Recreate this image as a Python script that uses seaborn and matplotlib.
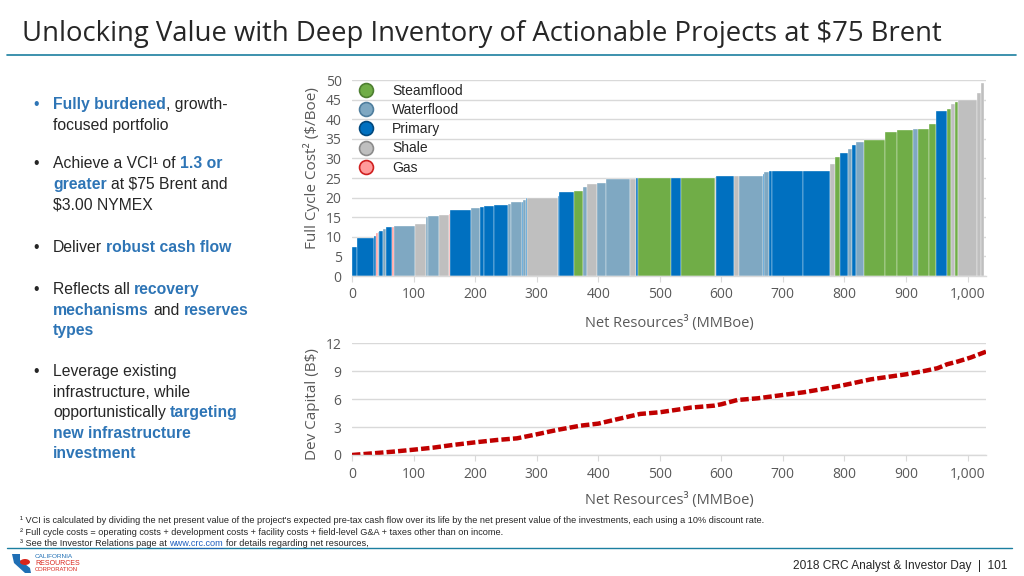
import numpy as np
import pandas as pd
import matplotlib
matplotlib.use("Agg")
import matplotlib.pyplot as plt
from matplotlib.lines import Line2D
from matplotlib.patches import Polygon, Ellipse
import seaborn as sns

# ---------------- data ----------------
# project segments on the cost curve (net resources width in MMBoe, cost $/Boe, type)
seg_width = [8, 28, 3, 3, 2, 7, 5, 9, 3, 34, 19, 2, 19, 15, 2, 34, 15, 6, 16, 24,
             5, 17, 2, 5, 2, 50, 2, 24, 15, 6, 16, 14, 39, 10, 3, 54, 17, 54, 3, 28,
             9, 39, 2, 7, 6, 49, 45, 8, 8, 13, 6, 7, 12, 35, 20, 25, 9, 18, 11, 17,
             7, 7, 5, 31, 6, 5]
seg_cost = [7.3, 9.8, 10.3, 10.9, 11.2, 11.6, 12.0, 12.4, 12.6, 12.7, 13.3, 15.0, 15.4, 15.6, 15.8,
            16.9, 17.4, 17.6, 17.8, 18.0, 18.3, 18.8, 19.0, 19.5, 19.8, 20.0, 20.5, 21.5, 21.7,
            22.8, 23.5, 23.8, 24.7, 24.8, 25.0, 25.0, 25.0, 25.0, 25.2, 25.4, 25.5, 25.6, 26.0,
            26.5, 26.8, 26.9, 26.9, 28.5, 30.3, 31.3, 32.5, 33.4, 34.1, 34.8, 36.7, 37.2, 37.6,
            37.6, 38.9, 42.1, 42.5, 43.8, 44.3, 44.9, 46.8, 49.2]
seg_type = ["Primary", "Primary", "Primary", "Gas", "Waterflood", "Primary", "Waterflood", "Primary",
            "Gas", "Waterflood", "Shale", "Waterflood", "Waterflood", "Shale", "Gas", "Primary",
            "Waterflood", "Primary", "Primary", "Primary", "Waterflood", "Waterflood", "Primary",
            "Waterflood", "Primary", "Shale", "Primary", "Primary", "Steamflood", "Waterflood",
            "Shale", "Waterflood", "Waterflood", "Shale", "Primary", "Steamflood", "Primary",
            "Steamflood", "Shale", "Primary", "Shale", "Waterflood", "Primary", "Waterflood",
            "Primary", "Primary", "Primary", "Shale", "Steamflood", "Primary", "Waterflood",
            "Primary", "Waterflood", "Steamflood", "Steamflood", "Steamflood", "Waterflood",
            "Steamflood", "Steamflood", "Primary", "Steamflood", "Shale", "Steamflood", "Shale",
            "Shale", "Shale"]

# cumulative development capital curve
cap_res = [0, 34, 67, 100, 132, 164, 200, 235, 268, 300, 333, 371, 400, 441, 468, 500, 533,
           550, 588, 600, 626, 659, 700, 734, 772, 800, 843, 900, 930, 951, 967, 984, 1005, 1030]
cap_bn = [0, 0.18, 0.36, 0.57, 0.79, 1.08, 1.36, 1.61, 1.79, 2.22, 2.69, 3.15, 3.37, 4.0, 4.41,
          4.59, 4.91, 5.09, 5.3, 5.45, 5.91, 6.09, 6.45, 6.74, 7.17, 7.52, 8.13, 8.67, 9.03, 9.32,
          9.75, 10.04, 10.47, 11.1]

legend_types = ["Steamflood", "Waterflood", "Primary", "Shale", "Gas"]
x_ticks = [0, 100, 200, 300, 400, 500, 600, 700, 800, 900, 1000]
top_yticks = [0, 5, 10, 15, 20, 25, 30, 35, 40, 45, 50]
bot_yticks = [0, 3, 6, 9, 12]

fill = {"Steamflood": "#70AD47", "Waterflood": "#7FA8C2", "Primary": "#0070C0",
        "Shale": "#BFBFBF", "Gas": "#FF9B9B"}
edge = {"Steamflood": "#4E7F31", "Waterflood": "#4F7E9E", "Primary": "#00487E",
        "Shale": "#8C8C8C", "Gas": "#D02020"}

# ---------------- style ----------------
sns.set_style("white")
plt.rcParams["font.family"] = ["Open Sans", "DejaVu Sans"]

W, H = 1024, 576
fig = plt.figure(figsize=(W / 100, H / 100), dpi=100)
fig.patch.set_facecolor("white")

TICKC = "#595959"
GRIDC = "#D9D9D9"


def fx(px):
    return px / W


def fy(py):
    return 1 - py / H


def style_axis(ax, xpad):
    ax.set_xlim(0, 1030)
    ax.set_xticks(x_ticks)
    ax.set_xticklabels([f"{v:,}" for v in x_ticks])
    ax.yaxis.grid(True, color=GRIDC, lw=1.0)
    ax.xaxis.grid(False)
    ax.set_axisbelow(True)
    for s in ["top", "right", "left"]:
        ax.spines[s].set_visible(False)
    ax.spines["bottom"].set_color(GRIDC)
    ax.spines["bottom"].set_linewidth(1.0)
    ax.tick_params(axis="x", which="both", bottom=True, length=4, color=GRIDC,
                   labelsize=10, labelcolor=TICKC, pad=xpad)
    ax.tick_params(axis="y", left=False, labelsize=10, labelcolor=TICKC, pad=4)


# ---------------- top chart ----------------
ax1 = fig.add_axes([fx(352), fy(276), fx(634), 196 / H])
starts = np.concatenate([[0], np.cumsum(seg_width)[:-1]])
df = pd.DataFrame({"start": starts, "width": seg_width, "cost": seg_cost, "type": seg_type})
ax1.bar(df["start"], df["cost"], width=df["width"], align="edge",
        color=[fill[t] for t in df["type"]], edgecolor="white", linewidth=0.25)
style_axis(ax1, 4)
ax1.set_ylim(0, 50)
ax1.set_yticks(top_yticks)
ax1.set_xlabel("Net Resources³ (MMBoe)", fontsize=10.5, color=TICKC, labelpad=9)
ax1.set_ylabel("Full Cycle Cost² ($/Boe)", fontsize=11, color=TICKC)
ax1.yaxis.set_label_coords(-0.051, 0.55)

handles = [Line2D([0], [0], marker="o", linestyle="none", markersize=10,
                  markerfacecolor=fill[t], markeredgecolor=edge[t], markeredgewidth=1.2)
           for t in legend_types]
leg = ax1.legend(handles, legend_types, loc="upper left", bbox_to_anchor=(0.0, 1.01),
                 frameon=False, handletextpad=1.3, labelspacing=0.38, borderaxespad=0,
                 handlelength=1.2, prop={"family": "Liberation Sans", "size": 10})
for t in leg.get_texts():
    t.set_color("#262626")

# ---------------- bottom chart ----------------
ax2 = fig.add_axes([fx(352), fy(455), fx(634), 111.7 / H])
cap_df = pd.DataFrame({"res": cap_res, "cap": cap_bn})
sns.lineplot(data=cap_df, x="res", y="cap", ax=ax2, color="#C00000", lw=3.2)
ax2.lines[0].set_dashes([1.9, 0.7])
style_axis(ax2, 5)
ax2.set_ylim(0, 12)
ax2.set_yticks(bot_yticks)
ax2.set_xlabel("Net Resources³ (MMBoe)", fontsize=10.5, color=TICKC, labelpad=7)
ax2.set_ylabel("Dev Capital (B$)", fontsize=11, color=TICKC)
ax2.yaxis.set_label_coords(-0.051, 0.46)

# ---------------- title & rules ----------------
fig.text(fx(22), fy(41), "Unlocking Value with Deep Inventory of Actionable Projects at $75 Brent",
         fontsize=19.8, color="#262626", va="baseline", ha="left")
fig.add_artist(Line2D([fx(7), fx(1016)], [fy(55), fy(55)], color="#1B7FA0", lw=1.2))
fig.add_artist(Line2D([fx(7), fx(1012)], [fy(548), fy(548)], color="#1B7FA0", lw=1.0))

# ---------------- bullets ----------------
renderer = fig.canvas.get_renderer()
BFONT = ["Liberation Sans", "DejaVu Sans"]
BSIZE = 11.3
DARK = "#262626"
BLUE = "#2E75B6"


def text_w(s, size, weight):
    t = fig.text(0, 0, s, fontsize=size, family=BFONT, fontweight=weight)
    w = t.get_window_extent(renderer).width
    t.remove()
    return w


def advance(s, size, weight):
    # width of s including trailing spaces, bracketed by a glyph
    return text_w(s + "x", size, weight) - text_w("x", size, weight)


def rich(x, y, parts, size=BSIZE):
    cx = x
    for s, style in parts:
        weight = "bold" if style == "b" else "normal"
        color = BLUE if style == "b" else DARK
        fig.text(cx / W, 1 - y / H, s.rstrip(" "), fontsize=size, family=BFONT,
                 fontweight=weight, color=color, va="baseline", ha="left")
        cx += advance(s, size, weight)


bullets = [
    (109, [[("Fully burdened", "b"), (", growth-", "n")], [("focused portfolio", "n")]], BLUE),
    (168, [[("Achieve a VCI¹ of ", "n"), ("1.3 or", "b")],
           [("greater ", "b"), ("at $75 Brent and", "n")], [("$3.00 NYMEX", "n")]], DARK),
    (252, [[("Deliver ", "n"), ("robust cash flow", "b")]], DARK),
    (294, [[("Reflects all ", "n"), ("recovery", "b")],
           [("mechanisms ", "b"), ("and ", "n"), ("reserves", "b")], [("types", "b")]], DARK),
    (376, [[("Leverage existing", "n")], [("infrastructure, while", "n")],
           [("opportunistically ", "n"), ("targeting", "b")],
           [("new infrastructure", "b")], [("investment", "b")]], DARK),
]
LINE_H = 20.6
for y0, lines, bcol in bullets:
    fig.text(fx(33), fy(y0), "•", fontsize=BSIZE, family=BFONT, color=bcol, va="baseline")
    for i, ln in enumerate(lines):
        rich(53, y0 + i * LINE_H, ln)

# ---------------- footnotes ----------------
FN = 6.55
fig.text(fx(20), fy(523), "¹ VCI is calculated by dividing the net present value of the project's expected "
         "pre-tax cash flow over its life by the net present value of the investments, each using a 10% discount rate.",
         fontsize=FN, family=BFONT, color=DARK, va="baseline")
fig.text(fx(20), fy(535), "² Full cycle costs = operating costs + development costs + facility costs + "
         "field-level G&A + taxes other than on income.",
         fontsize=FN, family=BFONT, color=DARK, va="baseline")
pre = "³ See the Investor Relations page at "
fig.text(fx(20), fy(546), pre.rstrip(), fontsize=FN, family=BFONT, color=DARK, va="baseline")
w1 = advance(pre, FN, "normal")
link = "www.crc.com"
fig.text(fx(20 + w1), fy(546), link, fontsize=FN, family=BFONT, color="#1F5FBF", va="baseline")
w2 = text_w(link, FN, "normal")
fig.add_artist(Line2D([fx(20 + w1), fx(20 + w1 + w2)], [fy(547.5), fy(547.5)], color="#1F5FBF", lw=0.5))
w3 = advance(link + " ", FN, "normal")
fig.text(fx(20 + w1 + w3), fy(546), "for details regarding net resources,", fontsize=FN,
         family=BFONT, color=DARK, va="baseline")

fig.text(fx(1007), fy(569), "2018 CRC Analyst & Investor Day  |  101", fontsize=8.6, family=BFONT,
         color=DARK, ha="right", va="baseline")

# ---------------- logo ----------------
ca = Polygon([(fx(12), fy(554)), (fx(20), fy(554)), (fx(20), fy(560)), (fx(30), fy(568)),
              (fx(31), fy(573)), (fx(25), fy(573)), (fx(14), fy(563))],
             closed=True, transform=fig.transFigure, facecolor="#1F6FB5", edgecolor="none")
fig.add_artist(ca)
fig.add_artist(Ellipse((fx(25), fy(562)), 10 / W, 6 / H, transform=fig.transFigure,
                       facecolor="#D9261C", edgecolor="none"))
fig.text(fx(35), fy(558), "CALIFORNIA", fontsize=4.6, family=BFONT, color="#1F6FB5", va="baseline")
fig.text(fx(35), fy(565), "RESOURCES", fontsize=5.0, family=BFONT, color="#D9261C", va="baseline")
fig.text(fx(35), fy(571), "CORPORATION", fontsize=4.2, family=BFONT, color="#D9261C", va="baseline")

fig.savefig("out.png", dpi=100)
